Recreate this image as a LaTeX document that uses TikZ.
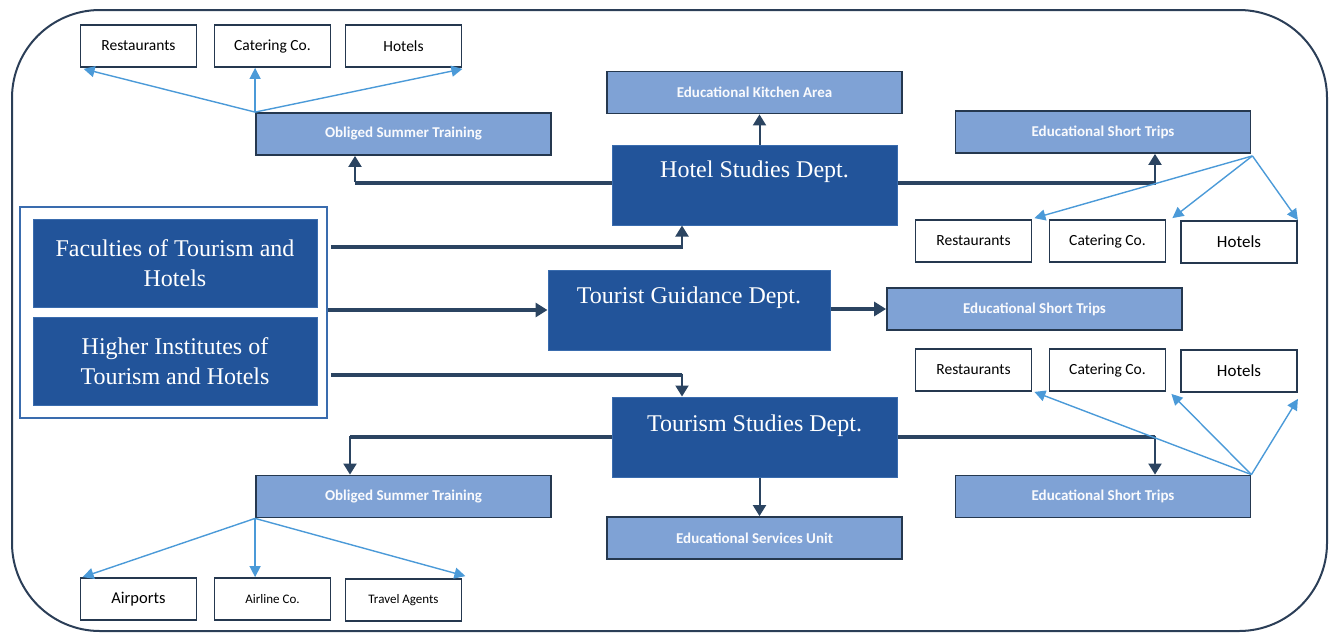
\documentclass[tikz,border=0pt]{standalone}
\usepackage{fontspec}
\setmainfont{Liberation Serif}
\newfontfamily\calfont{Carlito}
\usetikzlibrary{calc,arrows.meta}
\definecolor{deptblue}{HTML}{22549A}
\definecolor{deptedge}{HTML}{3A6CAE}
\definecolor{lightfill}{HTML}{7FA2D5}
\definecolor{edgedark}{HTML}{25384F}
\definecolor{linedark}{HTML}{2B4461}
\definecolor{arrowlight}{HTML}{4B9AD8}
\definecolor{framecol}{HTML}{2B3E57}
\begin{document}
\begin{tikzpicture}[x=1pt,y=-1pt,
  dept/.style={draw=deptedge, line width=1pt, fill=deptblue, minimum width=285pt, minimum height=80pt, inner sep=0pt, text=white, align=center, font=\fontsize{24}{30}\selectfont},
  depttxt/.style={text=white, font=\fontsize{24}{30}\selectfont, anchor=base, inner sep=0pt},
  lbox/.style={draw=edgedark, line width=1.8pt, fill=lightfill, minimum width=295pt, minimum height=42pt, inner sep=0pt, text=white!95!lightfill, font=\calfont\bfseries\fontsize{15}{17}\selectfont},
  wbox/.style={draw=edgedark, line width=1.8pt, fill=white, minimum width=116pt, minimum height=42pt, inner sep=0pt, font=\calfont\fontsize{15.5}{17}\selectfont},
  hline/.style={draw=linedark, line width=3.4pt},
  darr/.style={draw=linedark, line width=2pt, -{Triangle[width=13pt,length=11pt]}},
  tarr/.style={draw=linedark, line width=3.4pt, -{Triangle[width=14pt,length=12pt]}},
  larr/.style={draw=arrowlight, line width=1.4pt, -{Triangle[width=11pt,length=11pt]}}
]
\useasboundingbox (0,0) rectangle (1332,633);
% outer frame
\draw[framecol, line width=2pt, rounded corners=88pt] (12,10) rectangle (1327,631);

% left group
\node[draw=deptedge, line width=1.8pt, fill=white, minimum width=307pt, minimum height=211pt, inner sep=0pt] (grp) at (173.5,312.5) {};
\node[dept, minimum width=284pt, minimum height=88pt] (fac) at (175,263) {Faculties of Tourism and\\Hotels};
\node[dept, minimum width=284pt, minimum height=88pt] (hi) at (175,361) {Higher Institutes of\\Tourism and Hotels};

% departments
\node[dept] (hsd) at (754.5,185) {};
\node[depttxt] (hsdt) at ($(hsd.north)+(0,33)$) {Hotel Studies Dept.};
\node[dept, minimum width=282pt] (tgd) at (689,310) {};
\node[depttxt] (tgdt) at ($(tgd.north)+(0,34)$) {Tourist Guidance Dept.};
\node[dept] (tsd) at (754.5,437) {};
\node[depttxt] (tsdt) at ($(tsd.north)+(0,35)$) {Tourism Studies Dept.};

% light boxes
\node[lbox] (ost1) at (403.5,134) {Obliged Summer Training};
\node[lbox] (kit) at (754.5,92.5) {Educational Kitchen Area};
\node[lbox] (est1) at (1103,132) {Educational Short Trips};
\node[lbox] (est2) at (1034.5,309) {Educational Short Trips};
\node[lbox] (ost2) at (403.5,496.5) {Obliged Summer Training};
\node[lbox] (esu) at (754.5,538) {Educational Services Unit};
\node[lbox] (est3) at (1103,496.5) {Educational Short Trips};

% white boxes
\node[wbox] (r1) at (138.5,46) {Restaurants};
\node[wbox] (c1) at (272.5,46) {Catering Co.};
\node[wbox] (h1) at (403.5,46) {Hotels};
\node[wbox] (r2) at (973.5,241) {Restaurants};
\node[wbox] (c2) at (1107.5,241) {Catering Co.};
\node[wbox, font=\calfont\fontsize{17}{19}\selectfont] (h2) at (1239,242) {Hotels};
\node[wbox] (r3) at (973.5,370) {Restaurants};
\node[wbox] (c3) at (1107.5,370) {Catering Co.};
\node[wbox, font=\calfont\fontsize{17}{19}\selectfont] (h3) at (1239,371) {Hotels};
\node[wbox, font=\calfont\fontsize{16.5}{18}\selectfont] (ap) at (138.5,599) {Airports};
\node[wbox, font=\calfont\fontsize{13}{15}\selectfont] (al) at (272.5,599) {Airline Co.};
\node[wbox, font=\calfont\fontsize{13}{15}\selectfont] (ta) at (403.5,600) {Travel Agents};

% coordinates for elbow connectors
\coordinate (hsdL) at ($(hsd.west)+(0,-2)$);
\coordinate (ost1In) at ($(ost1.south)+(-48.5,0)$);
\coordinate (hsdR) at ($(hsd.east)+(0,-2)$);
\coordinate (est1In) at ($(est1.south)+(52,0)$);
\coordinate (facOut) at ($(grp.east |- fac.center)+(3,-16)$);
\coordinate (hsdIn) at ($(hsd.south)+(-72.5,0)$);
\coordinate (hiOut) at ($(grp.east |- hi.center)+(3,14)$);
\coordinate (tsdIn) at ($(tsd.north)+(-72.5,0)$);
\coordinate (ost2In) at ($(ost2.north)+(-53.5,0)$);
\coordinate (est3In) at ($(est3.north)+(52,0)$);

% dark connectors
\draw[darr] ($(hsd.north)+(5,0)$) -- ($(kit.south)+(5,0)$);
\draw[hline] (hsdL) -- (hsdL -| ost1In);
\draw[darr] ($(hsdL -| ost1In)+(0,-1.5)$) -- (ost1In);
\draw[hline] (hsdR) -- (hsdR -| est1In);
\draw[darr] ($(hsdR -| est1In)+(0,1.5)$) -- (est1In);
\draw[hline] (facOut) -- (facOut -| hsdIn);
\draw[darr] ($(facOut -| hsdIn)+(0,1.5)$) -- (hsdIn);
\draw[tarr] (grp.east |- tgd.west) -- (tgd.west);
\draw[hline] (hiOut) -- (hiOut -| tsdIn);
\draw[darr] ($(hiOut -| tsdIn)+(0,-1.5)$) -- (tsdIn);
\draw[tarr] (tgd.east |- est2.west) -- (est2.west);
\draw[hline] (tsd.west) -- (tsd.west -| ost2In);
\draw[darr] ($(tsd.west -| ost2In)+(0,-1.5)$) -- (ost2In);
\draw[hline] (tsd.east) -- (tsd.east -| est3In);
\draw[darr] ($(tsd.east -| est3In)+(0,-1.5)$) -- (est3In);
\draw[darr] ($(tsd.south)+(5,0)$) -- ($(esu.north)+(5,0)$);

% light connectors
\draw[larr] (ost1.north west) -- ($(r1.south west)+(4,1)$);
\draw[larr] (ost1.north west) -- (ost1.north west |- c1.south);
\draw[larr] (ost1.north west) -- ($(h1.south east)+(0,1)$);
\draw[larr] ($(est1.south east)+(1,2)$) -- ($(r2.north east)+(2,-1)$);
\draw[larr] ($(est1.south east)+(1,2)$) -- ($(c2.north east)+(6,-1)$);
\draw[larr] ($(est1.south east)+(1,2)$) -- (h2.north east);
\draw[larr] (est3.north east) -- ($(r3.south east)+(2,0)$);
\draw[larr] (est3.north east) -- ($(c3.south east)+(5,2)$);
\draw[larr] (est3.north east) -- ($(h3.south east)+(0,6)$);
\draw[larr] (ost2.south west) -- ($(ap.north west)+(3,0)$);
\draw[larr] (ost2.south west) -- (ost2.south west |- al.north);
\draw[larr] (ost2.south west) -- ($(ta.north east)+(3,-2)$);
\end{tikzpicture}
\end{document}
